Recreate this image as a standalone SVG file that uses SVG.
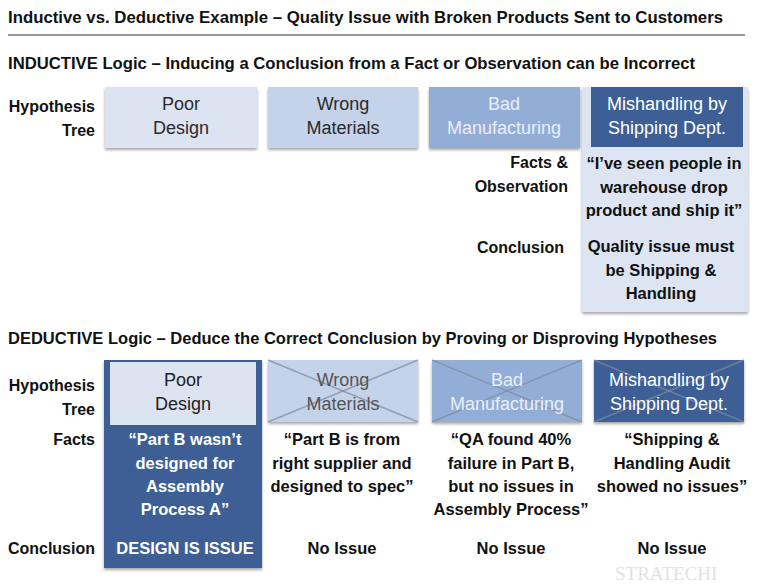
<svg xmlns="http://www.w3.org/2000/svg" width="763" height="587" viewBox="0 0 763 587">
<defs>
<filter id="sh" x="-10%" y="-10%" width="120%" height="130%">
<feDropShadow dx="0" dy="2" stdDeviation="1.5" flood-color="#000" flood-opacity="0.35"/>
</filter>
<style>
text{font-family:"Liberation Sans",Arial,sans-serif;}
.h{font-size:17px;font-weight:bold;fill:#111;}
.lab{font-size:16px;font-weight:bold;fill:#111;text-anchor:end;}
.bx{font-size:18px;text-anchor:middle;}
.b{font-size:16.5px;font-weight:bold;text-anchor:middle;fill:#111;}
.w{fill:#fff;}
.c1{fill:#dce4f2;}
.c2{fill:#c4d3e9;}
.c3{fill:#93aed6;}
.c4{fill:#3d5f95;}
.x{stroke:#7d8aa0;stroke-width:1.5;opacity:0.7;}
.wm{font-family:"Liberation Serif","Times New Roman",serif;font-size:19px;fill:#e2e2e2;}
</style>
</defs>
<rect width="763" height="587" fill="#fff"/>
<text class="h" x="8" y="23" textLength="715" lengthAdjust="spacingAndGlyphs">Inductive vs. Deductive Example – Quality Issue with Broken Products Sent to Customers</text>
<line x1="8" y1="35" x2="745" y2="35" stroke="#333" stroke-width="1"/>
<text class="h" x="8" y="69" textLength="687" lengthAdjust="spacingAndGlyphs">INDUCTIVE Logic – Inducing a Conclusion from a Fact or Observation can be Incorrect</text>
<text class="h" x="8" y="344" textLength="709" lengthAdjust="spacingAndGlyphs">DEDUCTIVE Logic – Deduce the Correct Conclusion by Proving or Disproving Hypotheses</text>

<g id="ind-labels">
<text class="lab" x="95" y="112">Hypothesis</text>
<text class="lab" x="95" y="136">Tree</text>
<text class="lab" x="568" y="168">Facts &amp;</text>
<text class="lab" x="568" y="192">Observation</text>
<text class="lab" x="564" y="253">Conclusion</text>
</g>

<g id="ind-poor">
<rect class="c1" x="105" y="87" width="152" height="61" filter="url(#sh)"/>
<text class="bx" x="181" y="110" fill="#2a2a2a">Poor</text>
<text class="bx" x="181" y="134" fill="#2a2a2a">Design</text>
</g>
<g id="ind-wrong">
<rect class="c2" x="268" y="87" width="150" height="61" filter="url(#sh)"/>
<text class="bx" x="343" y="110" fill="#2a2a2a">Wrong</text>
<text class="bx" x="343" y="134" fill="#2a2a2a">Materials</text>
</g>
<g id="ind-bad">
<rect class="c3" x="429" y="87" width="151" height="61" filter="url(#sh)"/>
<text class="bx" x="504" y="110" fill="#e8eef8">Bad</text>
<text class="bx" x="504" y="134" fill="#e8eef8">Manufacturing</text>
</g>
<g id="ind-mishandling">
<rect x="582" y="87" width="166" height="225" fill="#dde5f2" filter="url(#sh)"/>
<rect class="c4" x="591" y="87" width="152" height="60"/>
<text class="bx w" x="667" y="110">Mishandling by</text>
<text class="bx w" x="667" y="134">Shipping Dept.</text>
<text class="b" x="664" y="169">“I’ve seen people in</text>
<text class="b" x="664" y="193">warehouse drop</text>
<text class="b" x="664" y="216">product and ship it”</text>
<text class="b" x="661" y="252">Quality issue must</text>
<text class="b" x="661" y="276">be Shipping &amp;</text>
<text class="b" x="661" y="299">Handling</text>
</g>

<g id="ded-labels">
<text class="lab" x="95" y="391">Hypothesis</text>
<text class="lab" x="95" y="415">Tree</text>
<text class="lab" x="95" y="445">Facts</text>
<text class="lab" x="95" y="554">Conclusion</text>
</g>

<g id="ded-poor">
<rect class="c4" x="104" y="360" width="158" height="208" filter="url(#sh)"/>
<rect class="c1" x="110" y="362" width="146" height="63"/>
<text class="bx" x="183" y="386" fill="#222">Poor</text>
<text class="bx" x="183" y="410" fill="#222">Design</text>
<text class="b w" x="185" y="445">“Part B wasn’t</text>
<text class="b w" x="185" y="469">designed for</text>
<text class="b w" x="185" y="492">Assembly</text>
<text class="b w" x="185" y="515">Process A”</text>
<text class="b w" x="185" y="554">DESIGN IS ISSUE</text>
</g>
<g id="ded-wrong">
<rect class="c2" x="268" y="360" width="150" height="62" filter="url(#sh)"/>
<line class="x" x1="268" y1="360" x2="418" y2="422"/>
<line class="x" x1="418" y1="360" x2="268" y2="422"/>
<text class="bx" x="343" y="386" fill="#555">Wrong</text>
<text class="bx" x="343" y="410" fill="#555">Materials</text>
<text class="b" x="342" y="445">“Part B is from</text>
<text class="b" x="342" y="469">right supplier and</text>
<text class="b" x="342" y="492">designed to spec”</text>
<text class="b" x="342" y="554">No Issue</text>
</g>
<g id="ded-bad">
<rect class="c3" x="432" y="360" width="150" height="62" filter="url(#sh)"/>
<line class="x" x1="432" y1="360" x2="582" y2="422"/>
<line class="x" x1="582" y1="360" x2="432" y2="422"/>
<text class="bx" x="507" y="386" fill="#e8eef8">Bad</text>
<text class="bx" x="507" y="410" fill="#e8eef8">Manufacturing</text>
<text class="b" x="511" y="445">“QA found 40%</text>
<text class="b" x="511" y="469">failure in Part B,</text>
<text class="b" x="511" y="492">but no issues in</text>
<text class="b" x="511" y="515">Assembly Process”</text>
<text class="b" x="511" y="554">No Issue</text>
</g>
<g id="ded-mishandling">
<rect class="c4" x="594" y="360" width="150" height="62" filter="url(#sh)"/>
<line class="x" x1="594" y1="360" x2="744" y2="422"/>
<line class="x" x1="744" y1="360" x2="594" y2="422"/>
<text class="bx w" x="669" y="386">Mishandling by</text>
<text class="bx w" x="669" y="410">Shipping Dept.</text>
<text class="b" x="672" y="445">“Shipping &amp;</text>
<text class="b" x="672" y="469">Handling Audit</text>
<text class="b" x="672" y="492">showed no issues”</text>
<text class="b" x="672" y="554">No Issue</text>
</g>
<g id="connectors"></g>
<text class="wm" x="615" y="580">STRATECHI</text>
</svg>
